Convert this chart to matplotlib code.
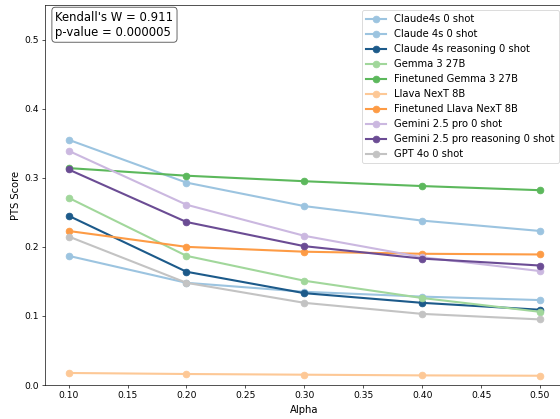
import matplotlib
matplotlib.use("Agg")
import matplotlib.pyplot as plt

# alpha values on x axis
alphas = [0.1, 0.2, 0.3, 0.4, 0.5]

# PTS scores
claude4s_0shot = [0.355, 0.293, 0.259, 0.238, 0.223]
claude_4s_0shot = [0.187, 0.148, 0.135, 0.128, 0.123]
claude_4s_reasoning = [0.245, 0.164, 0.133, 0.119, 0.109]
gemma3_27b = [0.271, 0.187, 0.151, 0.126, 0.106]
ft_gemma3_27b = [0.314, 0.303, 0.295, 0.288, 0.282]
llava_next_8b = [0.0175, 0.016, 0.015, 0.014, 0.0135]
ft_llava_next_8b = [0.223, 0.200, 0.193, 0.190, 0.189]
gemini25_0shot = [0.339, 0.261, 0.216, 0.185, 0.165]
gemini25_reasoning = [0.312, 0.236, 0.201, 0.183, 0.173]
gpt4o_0shot = [0.215, 0.148, 0.119, 0.103, 0.095]

labels = [
    "Claude4s 0 shot",
    "Claude 4s 0 shot",
    "Claude 4s reasoning 0 shot",
    "Gemma 3 27B",
    "Finetuned Gemma 3 27B",
    "Llava NexT 8B",
    "Finetuned Llava NexT 8B",
    "Gemini 2.5 pro 0 shot",
    "Gemini 2.5 pro reasoning 0 shot",
    "GPT 4o 0 shot",
]
series = [
    claude4s_0shot, claude_4s_0shot, claude_4s_reasoning,
    gemma3_27b, ft_gemma3_27b,
    llava_next_8b, ft_llava_next_8b,
    gemini25_0shot, gemini25_reasoning,
    gpt4o_0shot,
]
colors = [
    "#9cc4e0", "#9cc4e0", "#1c5a8a",
    "#a1d79b", "#5cb85c",
    "#fdc896", "#fd9b45",
    "#cbb8e0", "#6b4c94",
    "#c3c3c3",
]

fig = plt.figure(figsize=(560 / 60, 419 / 60), dpi=60)
ax = fig.add_axes([0.0804, 0.081, 0.926, 0.907])

for vals, lab, col in zip(series, labels, colors):
    ax.plot(alphas, vals, marker="o", color=col, label=lab,
            linewidth=2.5, markersize=8)

ax.set_ylim(0, 0.55)
ax.set_xlabel("Alpha", fontsize=12, labelpad=6)
ax.set_ylabel("PTS Score", fontsize=12)
ax.tick_params(labelsize=11)

ax.text(0.02, 0.985, "Kendall's W = 0.911\np-value = 0.000005",
        transform=ax.transAxes, fontsize=14, va="top", ha="left",
        bbox=dict(boxstyle="round", facecolor="white", edgecolor="0.3"))

ax.legend(loc="upper right", fontsize=12)

fig.savefig("out.png", dpi=60)
